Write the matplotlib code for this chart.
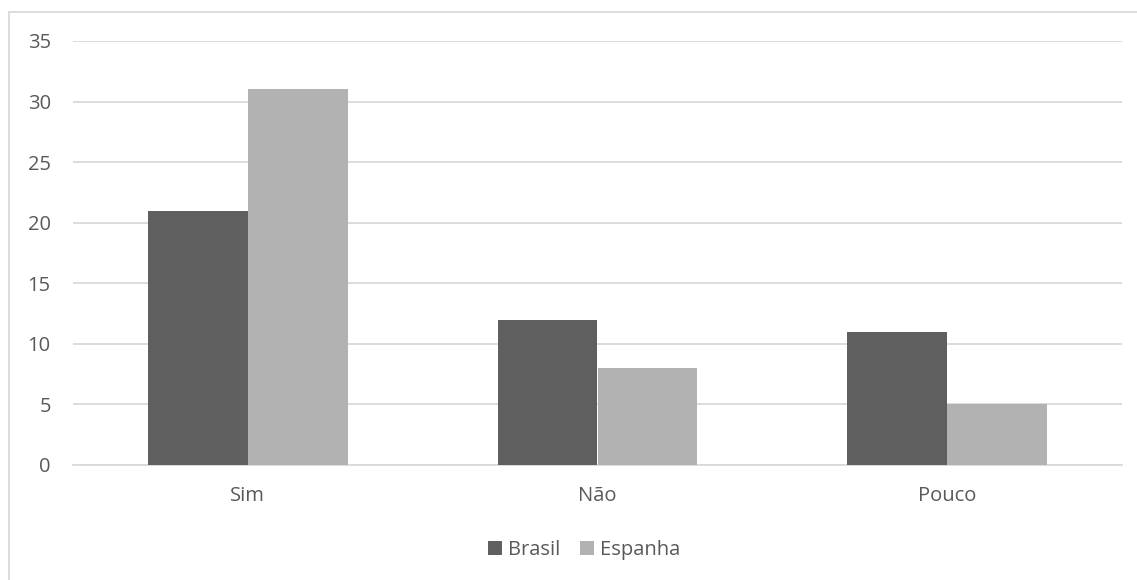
import numpy as np
import matplotlib.pyplot as plt
from matplotlib.lines import Line2D

categorias = ["Sim", "Não", "Pouco"]
brasil = [21, 12, 11]
espanha = [31, 8, 5]
series = ["Brasil", "Espanha"]
cores = ["#5f5f5f", "#b2b2b2"]

plt.rcParams['font.family'] = ['Open Sans', 'DejaVu Sans']
texto = "#595959"

fig = plt.figure(figsize=(11.37, 5.8), dpi=100)
ax = fig.add_axes([73/1137, 1 - 465/580, (1122-73)/1137, (465-41)/580])

x = np.arange(len(categorias))
w = 1 / 3.5
ax.bar(x - w/2, brasil, w, color=cores[0], label=series[0], zorder=3)
ax.bar(x + w/2, espanha, w, color=cores[1], label=series[1], zorder=3)

ax.set_xlim(-0.5, len(categorias) - 0.5)
ax.set_ylim(0, 35)
ax.set_yticks(range(0, 36, 5))
ax.set_xticks(x)
ax.set_xticklabels(categorias)
ax.grid(axis='y', color="#d9d9d9", linewidth=1.3, zorder=0)
for s in ['top', 'right', 'left']:
    ax.spines[s].set_visible(False)
ax.spines['bottom'].set_color("#d9d9d9")
ax.spines['bottom'].set_linewidth(1.3)
ax.tick_params(axis='both', length=0, labelsize=14.5, colors=texto)
ax.tick_params(axis='y', pad=16)
ax.tick_params(axis='x', pad=15)

leg = fig.legend(loc='center', bbox_to_anchor=(584/1137, 1 - 550/580), ncol=2, frameon=False,
                 fontsize=14.5, handlelength=0.7, handleheight=0.7, handletextpad=0.3,
                 columnspacing=1.0)
for t in leg.get_texts():
    t.set_color(texto)

# moldura do gráfico (só topo e lado esquerdo aparecem)
y_top = 1 - 12/580
x_esq = 9/1137
fig.lines.append(Line2D([x_esq, 1], [y_top, y_top], transform=fig.transFigure,
                        color="#d9d9d9", linewidth=1.3))
fig.lines.append(Line2D([x_esq, x_esq], [0, y_top], transform=fig.transFigure,
                        color="#d9d9d9", linewidth=1.3))

fig.savefig("out.png", dpi=100)
